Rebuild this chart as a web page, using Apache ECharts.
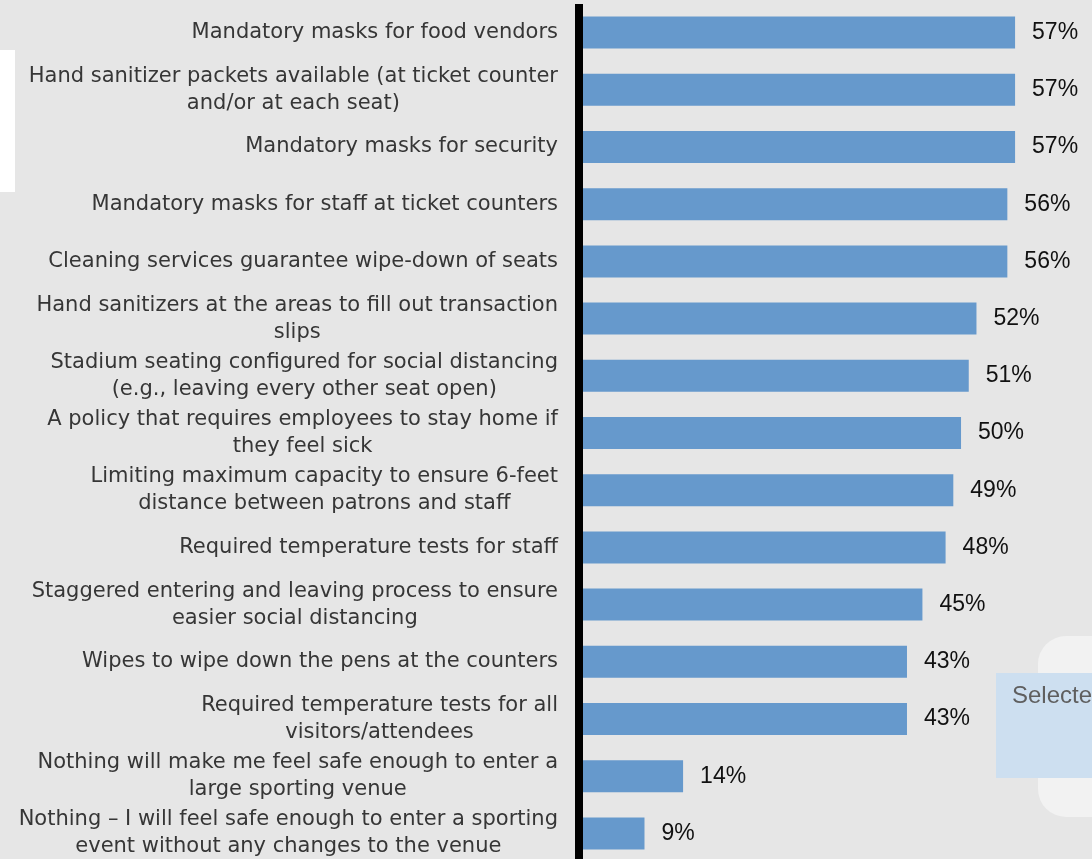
<!DOCTYPE html>
<html>
<head>
<meta charset="utf-8">
<script src="https://cdn.jsdelivr.net/npm/echarts@6/dist/echarts.min.js"></script>
<style>
  html, body { margin: 0; padding: 0; background: #e6e6e6; }
  #chart { width: 1092px; height: 859px; }
</style>
</head>
<body>
<div id="chart"></div>
<script>
// Venue safety measures and share of respondents choosing each (%)
const categories = [
  'Mandatory masks for food vendors',
  'Hand sanitizer packets available (at ticket counter\nand/or at each seat)',
  'Mandatory masks for security',
  'Mandatory masks for staff at ticket counters',
  'Cleaning services guarantee wipe-down of seats',
  'Hand sanitizers at the areas to fill out transaction\nslips',
  'Stadium seating configured for social distancing\n(e.g., leaving every other seat open)',
  'A policy that requires employees to stay home if\nthey feel sick',
  'Limiting maximum capacity to ensure 6-feet\ndistance between patrons and staff',
  'Required temperature tests for staff',
  'Staggered entering and leaving process to ensure\neasier social distancing',
  'Wipes to wipe down the pens at the counters',
  'Required temperature tests for all\nvisitors/attendees',
  'Nothing will make me feel safe enough to enter a\nlarge sporting venue',
  'Nothing \u2013 I will feel safe enough to enter a sporting\nevent without any changes to the venue'
];
const values = [57, 57, 57, 56, 56, 52, 51, 50, 49, 48, 45, 43, 43, 14, 9];

const panelLabel = 'Selected';

const chart = echarts.init(document.getElementById('chart'), null, { renderer: 'canvas' });

const catFont = { fontFamily: 'DejaVu Sans', fontSize: 21, lineHeight: 27, color: '#363636' };

chart.setOption({
  backgroundColor: '#e6e6e6',
  animation: false,
  grid: {
    left: 575, top: 4, width: 525, height: 858,
    containLabel: false, outerBoundsMode: 'none'
  },
  xAxis: {
    type: 'value', min: 0, max: 68, show: false,
    splitLine: { show: false }
  },
  yAxis: {
    type: 'category',
    inverse: true,
    data: categories,
    offset: -4,
    z: 5,
    axisTick: { show: false },
    axisLine: { show: true, lineStyle: { color: '#000000', width: 8, cap: 'butt' } },
    axisLabel: {
      interval: 0,
      margin: 21,
      align: 'right',
      verticalAlign: 'middle',
      fontFamily: catFont.fontFamily,
      fontSize: catFont.fontSize,
      lineHeight: catFont.lineHeight,
      color: catFont.color,
      // each line centred under the widest one, block right-aligned to the axis
      formatter: (v) => v.split('\n').map(l => '{c|' + l + '}').join('\n'),
      rich: {
        c: Object.assign({ align: 'center' }, catFont)
      }
    }
  },
  series: [{
    type: 'bar',
    data: values,
    barWidth: 32,
    itemStyle: { color: '#6699cc' },
    label: {
      show: true,
      position: 'right',
      distance: 17,
      formatter: '{c}%',
      fontFamily: 'Liberation Sans',
      fontSize: 23,
      color: '#111111'
    }
  }],
  graphic: [
    { type: 'rect', left: 0, top: 50, shape: { width: 15, height: 142 },
      style: { fill: '#ffffff' }, z: 1 },
    { type: 'rect', left: 1038, top: 636, shape: { width: 90, height: 181, r: 28 },
      style: { fill: '#f2f2f2' }, z: 1 },
    { type: 'rect', left: 996, top: 673, shape: { width: 110, height: 105 },
      style: { fill: '#cddff0' }, z: 2 },
    { type: 'text', left: 1012, top: 684,
      style: { text: panelLabel, fontFamily: 'Liberation Sans', fontSize: 24, fill: '#5f5f5f' }, z: 3 }
  ]
});
</script>
</body>
</html>
